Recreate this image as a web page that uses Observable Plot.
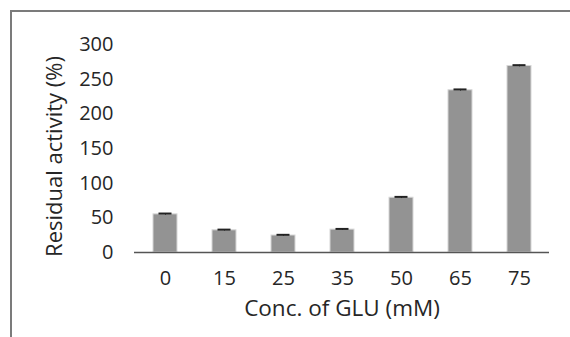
<!DOCTYPE html>
<html>
<head>
<meta charset="utf-8">
<script src="https://cdn.jsdelivr.net/npm/d3@7"></script>
<script src="https://cdn.jsdelivr.net/npm/@observablehq/plot@0.6"></script>
<style>
  html, body { margin: 0; padding: 0; background: #fff; }
  #wrap { position: relative; width: 570px; height: 337px; overflow: hidden; }
  #frame {
    position: absolute; left: 10px; top: 10px; right: -4px; bottom: -4px;
    border-left: 2px solid #7b7b7b; border-top: 2px solid #7b7b7b;
    pointer-events: none;
  }
  #wrap svg { position: absolute; left: 0; top: 0; }
</style>
</head>
<body>
<div id="wrap"><div id="frame"></div></div>
<script>
// Residual enzyme activity at increasing glutamate concentrations
const concentrations = ["0", "15", "25", "35", "50", "65", "75"];
const activity = [55, 32, 24.5, 33, 79, 234, 269];
const errors = [1.2, 1, 1, 1, 1.2, 1.2, 1.2];
const yTicks = [0, 50, 100, 150, 200, 250, 300];

const rows = concentrations.map((c, i) => ({
  conc: c,
  value: activity[i],
  hi: activity[i] + errors[i],
  lo: activity[i] - errors[i]
}));

const chart = Plot.plot({
  width: 570,
  height: 337,
  marginLeft: 134,
  marginRight: 21,
  marginTop: 44,
  marginBottom: 85,
  style: { fontFamily: "'Open Sans', sans-serif", fontSize: "20px", color: "#262626", background: "transparent" },
  x: {
    domain: concentrations,
    paddingInner: 0.6,
    paddingOuter: 0.3,
    label: null
  },
  y: {
    domain: [0, 300],
    ticks: yTicks,
    label: null
  },
  marks: [
    Plot.barY(rows, { x: "conc", y: "value", fill: "#939393", stroke: "#d6d6d6", strokeWidth: 1 }),
    Plot.ruleX(rows, { x: "conc", y1: "lo", y2: "hi", stroke: "#222", strokeWidth: 1 }),
    Plot.tickY(rows, { x: "conc", y: "hi", stroke: "#222", strokeWidth: 2, inset: 5.5 }),
    Plot.axisY({ ticks: yTicks, tickSize: 0, tickPadding: 21, fontSize: 20, label: null }),
    Plot.axisX({ tickSize: 0, tickPadding: 18, fontSize: 20, label: null }),
    Plot.ruleX([0], { frameAnchor: "left", stroke: "#333", strokeWidth: 1 }),
    Plot.ruleY([0], { stroke: "#555", strokeWidth: 1.5 }),
    Plot.text(["Conc. of GLU (mM)"], {
      frameAnchor: "bottom", textAnchor: "middle", dy: 63, fontSize: 22.5, fill: "#262626"
    }),
    Plot.text(["Residual activity (%)"], {
      frameAnchor: "left", textAnchor: "middle", dx: -80, dy: 8, rotate: -90, fontSize: 22, fill: "#262626"
    })
  ]
});

document.getElementById("wrap").prepend(chart);
</script>
</body>
</html>
